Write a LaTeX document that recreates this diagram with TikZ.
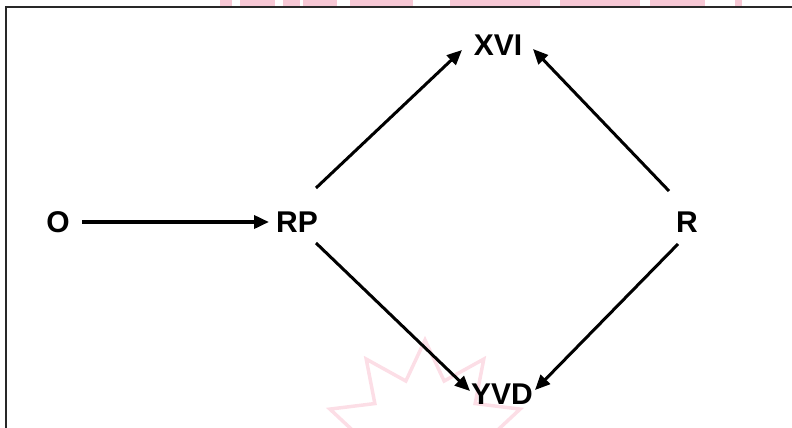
\documentclass[tikz,border=0pt]{standalone}
\usepackage{fontspec}
\setmainfont{Liberation Sans}
\usetikzlibrary{arrows.meta}
\definecolor{markpink}{RGB}{247,200,213}
\definecolor{starpink}{RGB}{252,222,230}
\definecolor{framegray}{RGB}{40,40,40}
\tikzset{
  term/.style={inner sep=0pt, font=\fontsize{30}{32}\selectfont\bfseries},
  link/.style={line width=3pt, -{Triangle[length=15pt,width=13pt]}},
}
\begin{document}
\begin{tikzpicture}[x=1pt,y=-1pt]
  \useasboundingbox (0,0) rectangle (792,428);
  \begin{scope}
    \clip (0,0) rectangle (792,428);
    % faint background mark
    \foreach \a/\b in {220/232,240/275,283/300,303/337,350/413,450/540,560/640,650/705,735/742}
      \fill[markpink] (\a,0) rectangle (\b,7);
    \begin{scope}[shift={(425,440)}]
      \draw[starpink, line width=3.5pt, line join=miter]
        (18:100) \foreach \j in {1,...,19} { -- ({18+18*\j}:{ifthenelse(isodd(\j),62,100)}) } -- cycle;
    \end{scope}
    % frame
    \draw[framegray, line width=1.6pt] (792,7) -- (6,7) -- (6,428);
  \end{scope}

  \node[term] (o)   at (58,222)  {O};
  \node[term] (rp)  at (297,222) {RP};
  \node[term] (r)   at (687,222) {R};
  \node[term] (xvi) at (498,45)  {XVI};
  \node[term] (yvd) at (502,394) {YVD};

  \draw[link, line width=3.6pt] ([shift={(24,0)}]o.center) -- ([shift={(-28,0)}]rp.center);
  \draw[link] ([shift={(19,-34)}]rp.center) -- ([shift={(-36,5)}]xvi.center);
  \draw[link] ([shift={(-18,-31)}]r.center) -- ([shift={(35,4)}]xvi.center);
  \draw[link] ([shift={(19,21)}]rp.center) -- ([shift={(-32,-3)}]yvd.center);
  \draw[link] ([shift={(-9,22)}]r.center) -- ([shift={(33,-4)}]yvd.center);
\end{tikzpicture}
\end{document}
